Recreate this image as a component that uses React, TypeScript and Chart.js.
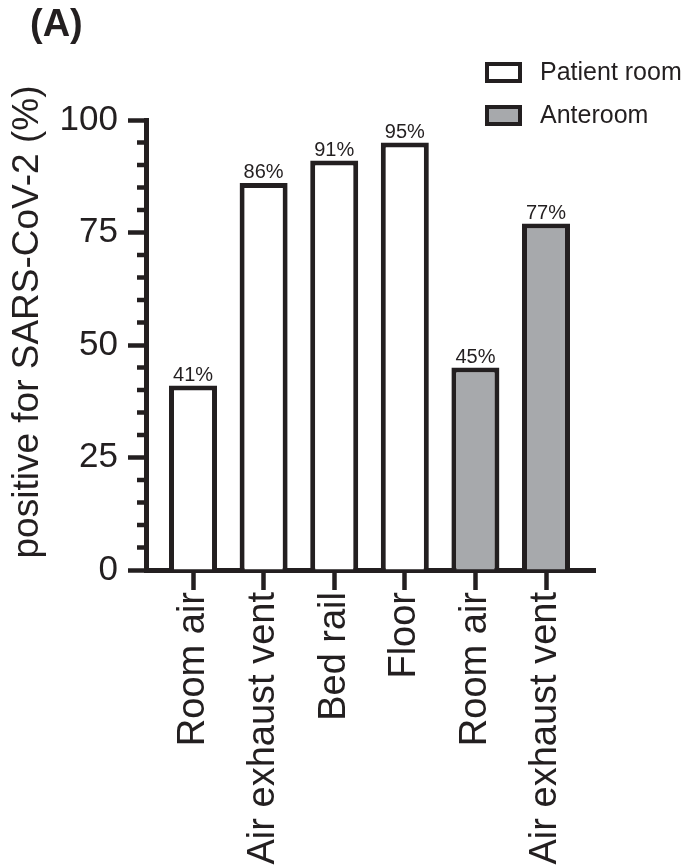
import React, { useEffect, useRef } from 'react';
import { Chart, registerables } from 'chart.js';

Chart.register(...registerables);

// ---- data ----
const categories = ['Room air', 'Air exhaust vent', 'Bed rail', 'Floor', 'Room air', 'Air exhaust vent'];
const patientRoomX = [0, 1, 2, 3];
const patientRoomValues = [41, 86, 91, 95];
const anteroomX = [4, 5];
const anteroomValues = [45, 77];
const seriesNames = ['Patient room', 'Anteroom'];
const yMajorTicks = [0, 25, 50, 75, 100];
const yMinorStep = 5;
const panelLabel = '(A)';
const yAxisTitle = 'positive for SARS-CoV-2 (%)';

// ---- styles ----
const INK = '#231f20';
const GRAY = '#a7a9ac';
const FONT = "'Liberation Sans', Arial, Helvetica, sans-serif";

const decorPlugin = {
  id: 'decor',
  afterDatasetsDraw(chart: any) {
    const ctx = chart.ctx as CanvasRenderingContext2D;
    ctx.save();
    // value labels above bars
    ctx.font = `20px ${FONT}`;
    ctx.fillStyle = INK;
    ctx.textAlign = 'center';
    ctx.textBaseline = 'alphabetic';
    chart.data.datasets.forEach((ds: any, di: number) => {
      const meta = chart.getDatasetMeta(di);
      meta.data.forEach((el: any, i: number) => {
        const v = ds.data[i].y;
        ctx.fillText(`${v}%`, el.x, el.y - 5);
      });
    });
    // minor ticks on y axis
    const ys = chart.scales.y;
    const left = chart.chartArea.left;
    ctx.strokeStyle = INK;
    ctx.lineWidth = 4.5;
    for (let v = ys.min; v <= ys.max; v += yMinorStep) {
      if (yMajorTicks.includes(v)) continue;
      const py = ys.getPixelForValue(v);
      ctx.beginPath();
      ctx.moveTo(left - 9, py);
      ctx.lineTo(left, py);
      ctx.stroke();
    }
    // y axis title
    ctx.save();
    ctx.translate(27.5, 322);
    ctx.rotate(-Math.PI / 2);
    ctx.font = `37px ${FONT}`;
    ctx.textAlign = 'center';
    ctx.textBaseline = 'middle';
    ctx.fillStyle = INK;
    ctx.fillText(yAxisTitle, 0, 0);
    ctx.restore();
    ctx.restore();
  },
  afterDraw(chart: any) {
    const ctx = chart.ctx as CanvasRenderingContext2D;
    ctx.save();
    chart.data.datasets.forEach((ds: any, i: number) => {
      const top = 62 + i * 43;
      ctx.fillStyle = ds.backgroundColor;
      ctx.fillRect(485, top, 37, 21);
      ctx.lineWidth = 4;
      ctx.strokeStyle = ds.borderColor;
      ctx.strokeRect(487, top + 2, 33, 17);
      ctx.font = `25px ${FONT}`;
      ctx.textBaseline = 'middle';
      ctx.textAlign = 'left';
      ctx.fillStyle = INK;
      ctx.fillText(ds.label, 540, top + 11);
    });
    ctx.restore();
  },
};

export default function App() {
  const canvasRef = useRef<HTMLCanvasElement | null>(null);

  useEffect(() => {
    if (!canvasRef.current) return;
    const barStyle = {
      borderColor: INK,
      borderWidth: 5,
      borderSkipped: 'start',
      grouped: false,
      barPercentage: 0.68,
      categoryPercentage: 1,
    };
    const chart = new Chart(canvasRef.current, {
      type: 'bar',
      data: {
        datasets: [
          {
            label: seriesNames[0],
            data: patientRoomX.map((x, i) => ({ x, y: patientRoomValues[i] })),
            backgroundColor: '#ffffff',
            ...barStyle,
          } as any,
          {
            label: seriesNames[1],
            data: anteroomX.map((x, i) => ({ x, y: anteroomValues[i] })),
            backgroundColor: GRAY,
            ...barStyle,
          } as any,
        ],
      },
      options: {
        animation: false,
        responsive: true,
        maintainAspectRatio: false,
        layout: { padding: { left: 30, right: 88, top: 0, bottom: 0 } },
        plugins: {
          legend: { display: false },
          tooltip: { enabled: false },
          title: {
            display: true,
            text: panelLabel,
            align: 'start',
            color: INK,
            font: { family: FONT, size: 38, weight: 'bold' },
            padding: { top: 3, bottom: 71.4 },
          },
        },
        scales: {
          x: {
            type: 'linear',
            min: -0.666,
            max: 5.694,
            offset: false,
            afterBuildTicks: (s: any) => {
              s.ticks = categories.map((_, i) => ({ value: i }));
            },
            afterFit: (s: any) => {
              s.height = 295;
            },
            grid: {
              display: true,
              offset: false,
              drawOnChartArea: false,
              drawTicks: true,
              tickLength: 20,
              tickWidth: 4.5,
              tickColor: INK,
            },
            border: { display: true, width: 5, color: INK },
            ticks: {
              autoSkip: false,
              minRotation: 90,
              maxRotation: 90,
              padding: 2,
              color: INK,
              font: { family: FONT, size: 38 },
              callback: (v: any) => categories[v] ?? '',
            },
          },
          y: {
            min: 0,
            max: 100,
            afterFit: (s: any) => {
              s.width = 116;
            },
            grid: {
              display: true,
              drawOnChartArea: false,
              drawTicks: true,
              tickLength: 18,
              tickWidth: 4.5,
              tickColor: (c: any) => (c.tick && yMajorTicks.includes(c.tick.value) ? INK : 'rgba(0,0,0,0)'),
            },
            border: { display: true, width: 5, color: INK },
            ticks: {
              stepSize: yMinorStep,
              autoSkip: false,
              padding: 10,
              color: INK,
              font: { family: FONT, size: 35 },
              callback: (v: any) => (yMajorTicks.includes(v) ? String(v) : ''),
            },
          },
        },
      } as any,
      plugins: [decorPlugin],
    });
    return () => chart.destroy();
  }, []);

  return (
    <div style={{ position: 'absolute', left: 0, top: 0, width: 683, height: 865 }}>
      <canvas ref={canvasRef} />
    </div>
  );
}
